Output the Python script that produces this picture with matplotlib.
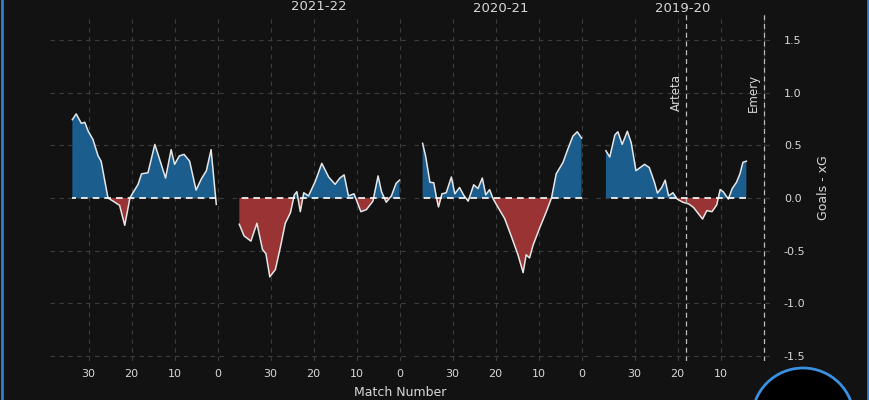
import matplotlib
matplotlib.use("Agg")
import matplotlib.pyplot as plt
from matplotlib.patches import Circle
import numpy as np

# ---- data (panels left -> right) ----
seasons = ["", "2021-22", "2020-21", "2019-20"]

p1_match = [33.8, 32.9, 31.7, 30.9, 30.1, 29.0, 27.8, 27.1, 25.5, 24.3, 22.8, 21.6, 20.4, 19.7, 18.5,
            17.7, 16.2, 14.6, 13.5, 12.1, 10.8, 10.0, 8.9, 7.8, 6.5, 5.0, 3.8, 2.6, 1.5, 0.3]
p1_value = [0.745, 0.80, 0.71, 0.72, 0.635, 0.557, 0.40, 0.35, 0.0, -0.03, -0.07, -0.26, 0.0, 0.05, 0.13,
            0.23, 0.24, 0.51, 0.37, 0.19, 0.46, 0.32, 0.40, 0.415, 0.35, 0.075, 0.18, 0.26, 0.46, -0.06]

p2_match = [37.3, 36.2, 34.6, 33.2, 31.9, 31.1, 30.2, 28.9, 27.7, 26.6, 25.4, 24.5, 23.9, 23.1, 22.3,
            21.2, 19.6, 18.1, 16.5, 15.0, 13.9, 12.9, 11.9, 10.6, 9.0, 7.7, 6.2, 5.0, 4.2, 3.1, 1.9, 0.8, 0.0]
p2_value = [-0.25, -0.36, -0.41, -0.24, -0.49, -0.53, -0.75, -0.68, -0.46, -0.24, -0.14, 0.03, 0.06, -0.13, 0.05,
            0.02, 0.16, 0.33, 0.20, 0.13, 0.19, 0.22, 0.02, 0.04, -0.13, -0.11, -0.03, 0.21, 0.06, -0.04, 0.02, 0.14, 0.17]

p3_match = [37.0, 36.3, 35.3, 34.4, 33.8, 33.3, 32.5, 31.5, 30.3, 29.5, 28.4, 27.4, 26.4, 25.1, 24.1, 23.1,
            22.3, 21.4, 20.6, 19.5, 17.9, 16.3, 14.8, 13.6, 12.9, 12.1, 11.3, 9.8, 8.2, 7.0, 5.9, 4.3, 3.2, 2.0, 1.0, 0.0]
p3_value = [0.52, 0.40, 0.15, 0.145, 0.01, -0.085, 0.04, 0.05, 0.20, 0.04, 0.10, 0.025, -0.03, 0.126, 0.09, 0.19,
            0.03, 0.08, -0.006, -0.085, -0.195, -0.37, -0.54, -0.71, -0.54, -0.57, -0.45, -0.29, -0.13, 0.0, 0.23, 0.34,
            0.465, 0.59, 0.63, 0.57]

p4_match = [36.7, 35.8, 34.6, 33.9, 32.9, 31.7, 30.8, 29.7, 27.7, 26.6, 25.4, 24.7, 23.7, 22.9, 22.1, 21.1,
            20.1, 18.8, 17.4, 16.3, 14.2, 13.2, 12.0, 10.9, 10.1, 9.4, 8.2, 7.3, 6.3, 5.5, 4.8, 4.0]
p4_value = [0.45, 0.39, 0.60, 0.63, 0.51, 0.635, 0.525, 0.26, 0.32, 0.29, 0.15, 0.047, 0.10, 0.17, 0.02, 0.05,
            -0.01, -0.04, -0.057, -0.09, -0.20, -0.12, -0.13, -0.066, 0.08, 0.06, -0.01, 0.09, 0.15, 0.23, 0.34, 0.35]

managers = ["Arteta", "Emery"]
manager_match = [18, 0]

x_ticks = [0, 10, 20, 30]
y_ticks = [-1.5, -1.0, -0.5, 0.0, 0.5, 1.0, 1.5]

panels = [(p1_match, p1_value), (p2_match, p2_value), (p3_match, p3_value), (p4_match, p4_value)]

# ---- style ----
BG = "#121212"
BLUE = "#1b5d8c"
RED = "#9a3333"
LINE = "#e6e6e6"
GRID = "#3c3c3c"
TXT = "#d8d8d8"

fig = plt.figure(figsize=(8.7, 4.0), dpi=100, facecolor=BG)
left, right = 50 / 870, 770 / 870
bottom, top = 1 - 361 / 400, 1 - 14 / 400
gs = fig.add_gridspec(1, 4, left=left, right=right, bottom=bottom, top=top, wspace=0.046)

title_y = [None, 1 - 7 / 400, 1 - 8 / 400, 1 - 9 / 400]

for i, (mx, vy) in enumerate(panels):
    ax = fig.add_subplot(gs[0, i])
    ax.set_facecolor(BG)
    mx = np.array(mx)
    vy = np.array(vy)
    ax.fill_between(mx, vy, 0, where=vy >= 0, interpolate=True, color=BLUE, lw=0)
    ax.fill_between(mx, vy, 0, where=vy <= 0, interpolate=True, color=RED, lw=0)
    ax.plot(mx, vy, color=LINE, lw=1.1)
    ax.plot([mx.min(), mx.max()], [0, 0], color="white", lw=1.2, ls=(0, (4, 3)))
    ax.set_xlim(39, -1.5)
    ax.set_ylim(-1.55, 1.75)
    ax.set_xticks(x_ticks)
    ax.set_yticks(y_ticks)
    ax.grid(True, color=GRID, ls=(0, (4, 4)), lw=0.8)
    ax.set_axisbelow(True)
    for s in ax.spines.values():
        s.set_visible(False)
    ax.tick_params(axis="x", colors=TXT, labelsize=8, length=0, pad=6)
    if i == 3:
        ax.set_xticklabels(["" if t == 0 else str(t) for t in x_ticks])
        ax.yaxis.tick_right()
        ax.tick_params(axis="y", colors=TXT, labelsize=8, length=0, pad=10, left=False, labelleft=False)
        ax.set_yticklabels([f"{t:.1f}" for t in y_ticks])
        for name, m in zip(managers, manager_match):
            ax.axvline(m, color="#bdbdbd", lw=0.9, ls=(0, (4, 3)))
            ax.text(m + 2.4, 1.0, name, rotation=90, color=TXT, fontsize=8.5,
                    ha="center", va="center")
        ax.set_ylabel("Goals - xG", color=TXT, fontsize=9, rotation=90, labelpad=8)
        ax.yaxis.set_label_position("right")
    else:
        ax.tick_params(axis="y", left=False, labelleft=False, length=0)
    if seasons[i]:
        pos = ax.get_position()
        fig.text((pos.x0 + pos.x1) / 2, title_y[i], seasons[i], color=TXT, fontsize=9.5,
                 ha="center", va="center")

fig.text(400 / 870, 1 - 392 / 400, "Match Number", color=TXT, fontsize=9, ha="center", va="center")

# side borders and bubble overlay
fig.add_artist(plt.Line2D([0.002, 0.002], [0, 1], transform=fig.transFigure, color="#2f7fd0", lw=2))
fig.add_artist(plt.Line2D([0.998, 0.998], [0, 1], transform=fig.transFigure, color="#2f7fd0", lw=2))
fig.add_artist(Circle((803, -19), 51, transform=None, facecolor="black", edgecolor="#3a8fe0", lw=2,
                      zorder=10))

fig.savefig("out.png", dpi=100, facecolor=BG)
